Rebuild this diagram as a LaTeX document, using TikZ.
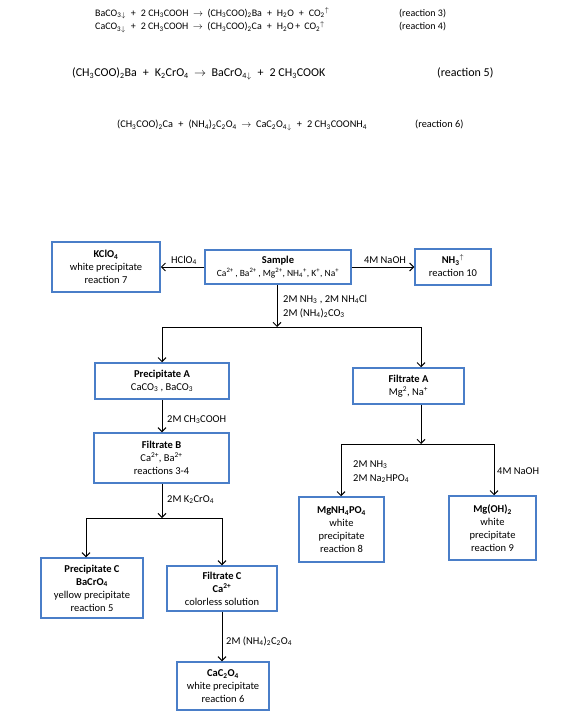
\documentclass[tikz,border=0pt]{standalone}
\usepackage{fontspec}
\setmainfont{Carlito}
\usetikzlibrary{arrows.meta}
\definecolor{boxblue}{RGB}{74,126,200}
\newcommand{\ssb}[1]{\textsubscript{#1}}
\newcommand{\ssp}[1]{\textsuperscript{#1}}
\newcommand{\dn}{\smash{\textsubscript{$\downarrow$}}}
\newcommand{\upa}{\smash{\textsuperscript{$\uparrow$}}}
\newcommand{\pls}{\hspace{0.5em}+\hspace{0.5em}}
\newcommand{\yields}{\hspace{0.45em}$\rightarrow$\hspace{0.45em}}
\begin{document}
\begin{tikzpicture}[x=1pt,y=-1pt,
  box/.style={draw=boxblue,line width=1.5pt,fill=white,align=center,inner sep=0pt,font=\fontsize{10.5}{13}\selectfont},
  arr/.style={line width=1pt,-{Straight Barb[length=4pt,width=8pt]}},
  ln/.style={line width=1pt},
  lbl/.style={font=\fontsize{10.5}{13}\selectfont,inner sep=0pt,anchor=base west},
  eqa/.style={font=\fontsize{10}{12}\selectfont,inner sep=0pt,anchor=base west},
  eqb/.style={font=\fontsize{12}{14}\selectfont,inner sep=0pt,anchor=base west},
  eqc/.style={font=\fontsize{10.3}{12}\selectfont,inner sep=0pt,anchor=base west}]
\useasboundingbox (0,0) rectangle (580,727);
% equations
\node[eqa] (e3) at (95,16.5) {BaCO\ssb{3}\dn\pls 2 CH\ssb{3}COOH\yields(CH\ssb{3}COO)\ssb{2}Ba\pls H\ssb{2}O\pls CO\ssb{2}\upa};
\node[eqa] (r3) at (399,16.5) {(reaction 3)};
\node[eqa] (e4) at (95,30) {CaCO\ssb{3}\dn\pls 2 CH\ssb{3}COOH\yields(CH\ssb{3}COO)\ssb{2}Ca\pls H\ssb{2}O\,+\, CO\ssb{2}\upa};
\node[eqa] (r4) at (399,30) {(reaction 4)};
\node[eqb] (e5) at (72,77) {(CH\ssb{3}COO)\ssb{2}Ba\pls K\ssb{2}CrO\ssb{4}\yields BaCrO\ssb{4}\dn\pls 2 CH\ssb{3}COOK};
\node[eqb] (r5) at (437,77) {(reaction 5)};
\node[eqc] (e6) at (117,128) {(CH\ssb{3}COO)\ssb{2}Ca\pls(NH\ssb{4})\ssb{2}C\ssb{2}O\ssb{4}\yields CaC\ssb{2}O\ssb{4}\dn\pls 2 CH\ssb{3}COONH\ssb{4}};
\node[eqc] (r6) at (415,128) {(reaction 6)};
% boxes
\node[box,minimum width=108pt,minimum height=50pt] (kclo) at (106,267) {\textbf{KClO\ssb{4}}\\white precipitate\\reaction 7};
\node[box,minimum width=146pt,minimum height=34pt] (sample) at (278,267) {\textbf{Sample}\\{\fontsize{9.5}{12}\selectfont Ca\ssp{2+}\,, Ba\ssp{2+}\,, Mg\ssp{2+}, NH\ssb{4}\ssp{+}, K\ssp{+}, Na\ssp{+}}};
\node[box,minimum width=76pt,minimum height=36pt] (nh3) at (453,267) {\textbf{NH\ssb{3}}\upa\\reaction 10};
\node[box,minimum width=134pt,minimum height=36pt] (precA) at (162,381) {\textbf{Precipitate A}\\CaCO\ssb{3} , BaCO\ssb{3}};
\node[box,minimum width=111pt,minimum height=36pt] (filtA) at (408.5,386) {\textbf{Filtrate A}\\Mg\ssp{2}, Na\ssp{+}};
\node[box,minimum width=135pt,minimum height=50pt] (filtB) at (161.5,458) {\textbf{Filtrate B}\\Ca\ssp{2+}, Ba\ssp{2+}\\reactions 3-4};
\node[box,minimum width=85pt,minimum height=65pt] (mgnh) at (341.5,529.5) {\textbf{MgNH\ssb{4}PO\ssb{4}}\\white\\precipitate\\reaction 8};
\node[box,minimum width=87pt,minimum height=64pt] (mgoh) at (492.5,528) {\textbf{Mg(OH)\ssb{2}}\\white\\precipitate\\reaction 9};
\node[box,minimum width=102pt,minimum height=60pt] (precC) at (92,588) {\textbf{Precipitate C}\\\textbf{BaCrO\ssb{4}}\\yellow precipitate\\reaction 5};
\node[box,minimum width=110pt,minimum height=45pt] (filtC) at (222,588.5) {\textbf{Filtrate C}\\\textbf{Ca\ssp{2+}}\\colorless solution};
\node[box,minimum width=92pt,minimum height=48pt] (cac) at (223,686) {\textbf{CaC\ssb{2}O\ssb{4}}\\white precipitate\\reaction 6};
% junction coordinates
\coordinate (j1) at (277,327);
\coordinate (j1l) at (162,327);
\coordinate (j1r) at (421,327);
\coordinate (j2) at (162,518);
\coordinate (j2l) at (86,518);
\coordinate (j2r) at (222,518);
\coordinate (j3) at (421,444);
\coordinate (j3l) at (341,444);
\coordinate (j3r) at (494,444);
% connectors
\draw[arr] (sample.west) -- (kclo.east);
\draw[arr] (sample.east) -- (nh3.west);
\draw[arr] (sample.south -| j1) -- (j1);
\draw[ln] (j1l) -- (j1r);
\draw[arr] (j1l) -- (precA.north);
\draw[arr] (j1r) -- (filtA.north -| j1r);
\draw[arr] (precA.south) -- (filtB.north -| precA.south);
\draw[arr] (filtB.south -| j2) -- (j2);
\draw[ln] (j2l) -- (j2r);
\draw[arr] (j2l) -- (precC.north -| j2l);
\draw[arr] (j2r) -- (filtC.north);
\draw[arr] (filtA.south -| j3) -- (j3);
\draw[ln] (j3l) -- (j3r);
\draw[arr] (j3l) -- (mgnh.north -| j3l);
\draw[arr] (j3r) -- (mgoh.north -| j3r);
\draw[arr] (filtC.south) -- (cac.north -| filtC.south);
% labels
\node[lbl,anchor=base] (lhclo) at (184,263) {HClO\ssb{4}};
\node[lbl,anchor=base] (lnaoh1) at (385,263) {4M NaOH};
\node[lbl] (lnh3a) at (283,302) {2M NH\ssb{3} , 2M NH\ssb{4}Cl};
\node[lbl] (lnh3b) at (283,316) {2M (NH\ssb{4})\ssb{2}CO\ssb{3}};
\node[lbl] (lacoh) at (167,422) {2M CH\ssb{3}COOH};
\node[lbl] (lk2cro4) at (167,502) {2M K\ssb{2}CrO\ssb{4}};
\node[lbl] (lnh3c) at (353,467) {2M NH\ssb{3}};
\node[lbl] (lnahpo) at (353,481) {2M Na\ssb{2}HPO\ssb{4}};
\node[lbl] (lnaoh2) at (497,474) {4M NaOH};
\node[lbl] (loxal) at (226,644) {2M (NH\ssb{4})\ssb{2}C\ssb{2}O\ssb{4}};
\end{tikzpicture}
\end{document}
